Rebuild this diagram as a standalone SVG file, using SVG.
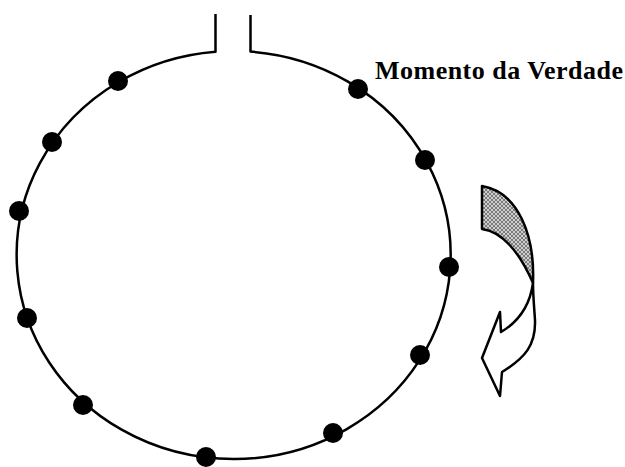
<svg xmlns="http://www.w3.org/2000/svg" width="625" height="467" viewBox="0 0 625 467">
<defs>
<pattern id="hatch" width="4" height="4" patternUnits="userSpaceOnUse">
<rect width="4" height="4" fill="#cfcfcf"/>
<path d="M0,4 L4,0 M0,0 L4,4" stroke="#555" stroke-width="0.7"/>
</pattern>
</defs>
<style>
.line{fill:none;stroke:#000;stroke-width:2.5;stroke-linejoin:round}
.dot{fill:#000}
.arrow{stroke:#000;stroke-width:2.5;stroke-linejoin:round}
.label{font-family:"Liberation Serif","Times New Roman",serif;font-weight:bold;font-size:26px;fill:#000}
</style>
<rect width="625" height="467" fill="#fff"/>
<g id="cycle">
<path class="line" d="M215.5,14 L215.5,51.7 A217,204 0 1 0 250.5,51.6 L250.5,15"/>
</g>
<g id="points">
<circle class="dot" cx="358" cy="89" r="10"/>
<circle class="dot" cx="425" cy="160" r="10"/>
<circle class="dot" cx="449" cy="267" r="10"/>
<circle class="dot" cx="420" cy="355" r="10"/>
<circle class="dot" cx="333" cy="433" r="10"/>
<circle class="dot" cx="206" cy="457" r="10"/>
<circle class="dot" cx="83" cy="405" r="10"/>
<circle class="dot" cx="27" cy="318" r="10"/>
<circle class="dot" cx="19" cy="211" r="10"/>
<circle class="dot" cx="52" cy="142" r="10"/>
<circle class="dot" cx="118" cy="81" r="10"/>
</g>
<g id="label">
<text class="label" x="375" y="79" textLength="248" lengthAdjust="spacing">Momento da Verdade</text>
</g>
<g id="turn-arrow">
<path class="arrow" fill="url(#hatch)" d="M482,186 C518,192 535,235 533,283 C522,258 505,232 482,229 Z"/>
<path class="arrow" fill="#fff" d="M533,283 C530,305 518,322 501,332 L500,312 L482,358 L500,396 L502,372 C525,358 536,345 535,320 C534,305 533,295 533,283 Z"/>
</g>
</svg>
